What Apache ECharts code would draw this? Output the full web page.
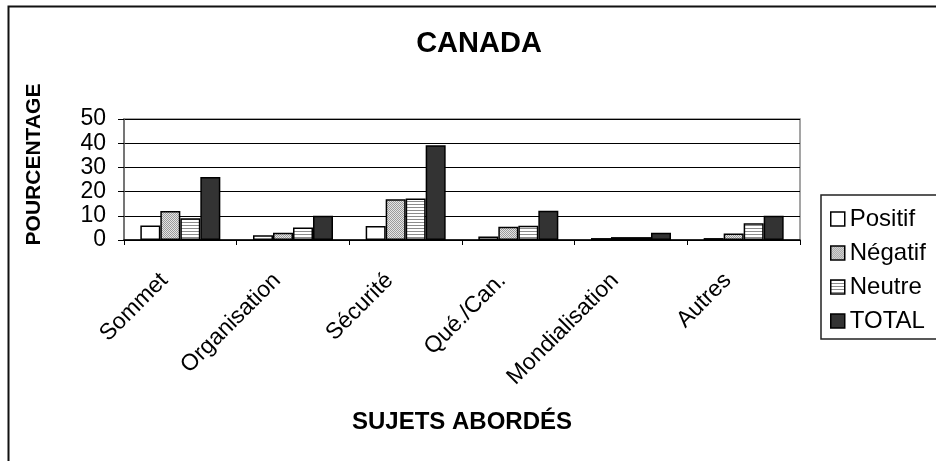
<!DOCTYPE html>
<html><head><meta charset="utf-8">
<script src="https://cdn.jsdelivr.net/npm/echarts@6/dist/echarts.min.js"></script>
<style>html,body{margin:0;padding:0;background:#fff}#c{width:936px;height:461px}</style>
</head><body><div id="c"></div>
<script>
const categories = ['Sommet','Organisation','Sécurité','Qué./Can.','Mondialisation','Autres'];
const positif = [6, 2, 5.8, 1.4, 0.8, 0.8];
const negatif = [12, 3, 16.8, 5.5, 1.2, 2.7];
const neutre = [9, 5.2, 17.2, 5.9, 1.2, 6.9];
const total = [26, 10, 39.2, 12.1, 3, 10];
const seriesNames = ['Positif','Négatif','Neutre','TOTAL'];
const yTicks = [0, 10, 20, 30, 40, 50];

function dotPattern(){
  const c = document.createElement('canvas'); c.width = 2; c.height = 2;
  const g = c.getContext('2d');
  g.fillStyle = '#e4e4e4'; g.fillRect(0,0,2,2);
  g.fillStyle = '#9a9a9a'; g.fillRect(0,0,1,1); g.fillRect(1,1,1,1);
  return {image: c, repeat: 'repeat'};
}
function stripePattern(){
  const c = document.createElement('canvas'); c.width = 4; c.height = 3;
  const g = c.getContext('2d');
  g.fillStyle = '#ffffff'; g.fillRect(0,0,4,3);
  g.fillStyle = '#8c8c8c'; g.fillRect(0,0,4,1);
  return {image: c, repeat: 'repeat'};
}
const fills = ['#ffffff', dotPattern(), stripePattern(), '#333333'];
const values = [positif, negatif, neutre, total];
const font = '"Liberation Sans", Arial, sans-serif';

const chart = echarts.init(document.getElementById('c'));
chart.setOption({
  animation: false,
  backgroundColor: '#fff',
  graphic: [{type:'rect', shape:{x:8.5, y:6.5, width:1000, height:600}, style:{fill:'none', stroke:'#111', lineWidth:2}, silent:true}],
  title: {text:'CANADA', left: 474, textAlign:'center', top: 24, textStyle:{fontFamily:font, fontSize:29, fontWeight:'bold', color:'#000'}},
  legend: {
    orient:'vertical', left: 821, top: 195, width: 140,
    padding:[12, 40, 6, 9], itemGap: 10,
    borderColor:'#222', borderWidth:1.5,
    itemWidth: 14, itemHeight: 14, icon:'rect', itemTextGap: 5,
    textStyle:{fontFamily:font, fontSize:24, color:'#000'},
    itemStyle:{borderColor:'#000', borderWidth:1.5},
    data: seriesNames
  },
  grid: [
    {left:124, top:119, right:136, bottom:221, show:true, borderColor:'#888', borderWidth:1.5, backgroundColor:'transparent'},
    {left:108, top:119, right:152, bottom:221, show:false}
  ],
  xAxis: [{
    type:'category', data: categories, gridIndex:0,
    name:'SUJETS ABORDÉS', nameLocation:'middle', nameGap: 170,
    nameTextStyle:{fontFamily:font, fontSize:24, fontWeight:'bold', color:'#000'},
    axisLine:{lineStyle:{color:'#000', width:1.5}},
    axisTick:{show:true, length:5, lineStyle:{color:'#000'}},
    axisLabel:{show:false}
  },{
    type:'category', data: categories, gridIndex:1,
    axisLine:{show:false}, axisTick:{show:false}, splitLine:{show:false},
    axisLabel:{rotate:45, fontFamily:font, fontSize:23, color:'#000', margin:37}
  }],
  yAxis: [{
    type:'value', min: yTicks[0], max: yTicks[yTicks.length-1], interval: 10, gridIndex:0,
    name:'POURCENTAGE', nameLocation:'middle', nameGap: 79, nameRotate: 90,
    nameTextStyle:{fontFamily:font, fontSize:21, fontWeight:'bold', color:'#000', padding:[0,0,0,30]},
    axisLine:{show:true, lineStyle:{color:'#666', width:1.5}},
    axisTick:{show:true, length:6, lineStyle:{color:'#000'}},
    axisLabel:{fontFamily:font, fontSize:23, color:'#000', margin:18},
    splitLine:{show:true, lineStyle:{color:'#000', width:1}}
  },{
    type:'value', gridIndex:1, show:false, min:0, max:50
  }],
  series: seriesNames.map((n,i)=>({
    name:n, type:'bar', data: values[i], xAxisIndex:0, yAxisIndex:0,
    barGap:'0%', barCategoryGap:'29%',
    itemStyle:{color: fills[i], borderColor:'#000', borderWidth:1.5}
  }))
});
</script></body></html>
